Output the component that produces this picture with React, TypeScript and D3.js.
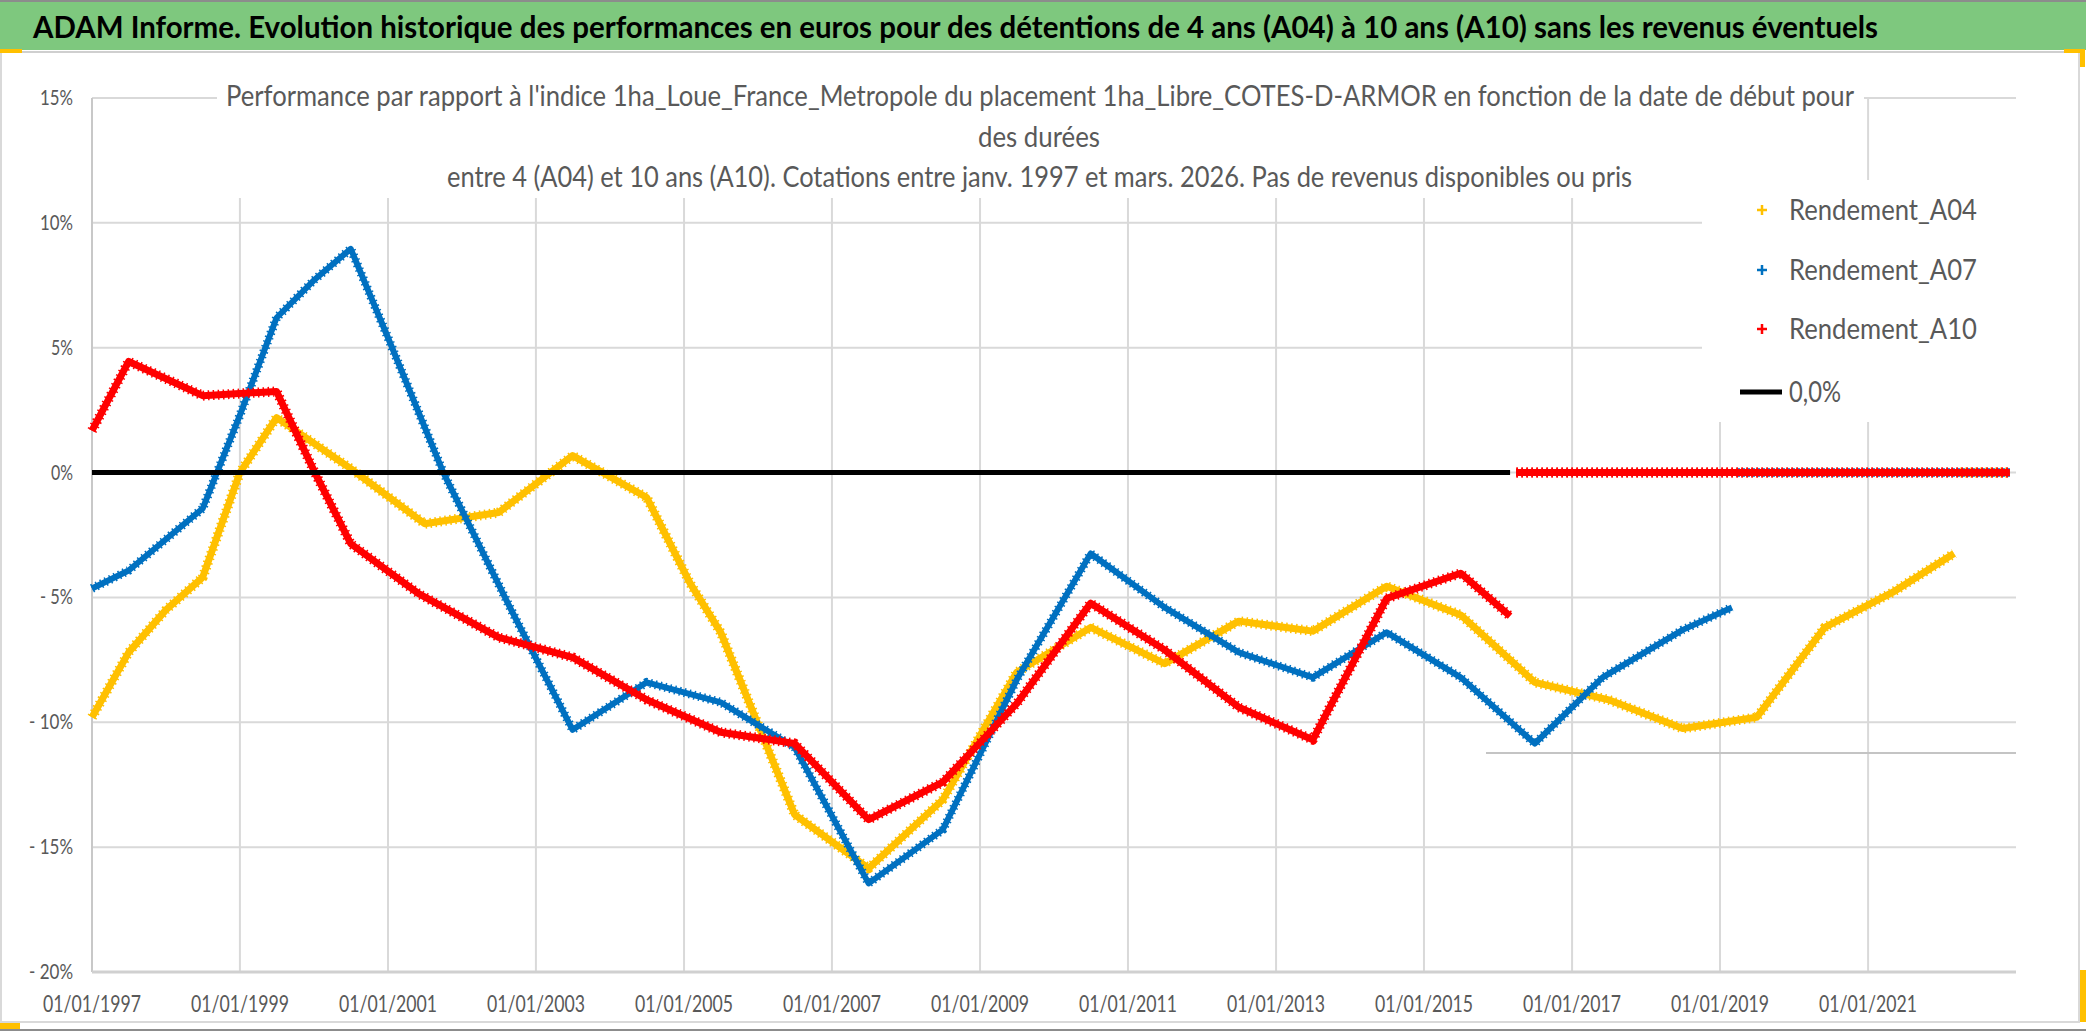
import * as d3 from "d3";

type Point = [string, number | null];

const titleText =
  "ADAM Informe. Evolution historique des performances en euros pour des détentions de 4 ans (A04) à 10 ans (A10) sans les revenus éventuels";

const subtitleLines = [
  "Performance par rapport à l'indice 1ha_Loue_France_Metropole  du placement 1ha_Libre_COTES-D-ARMOR en fonction de la date de début pour",
  "des durées",
  "entre 4 (A04) et 10 ans (A10). Cotations entre janv. 1997 et mars. 2026. Pas de revenus disponibles ou pris"
];

const yTicks = [-20, -15, -10, -5, 0, 5, 10, 15];
const xTickYears = [1997, 1999, 2001, 2003, 2005, 2007, 2009, 2011, 2013, 2015, 2017, 2019, 2021];

const seriesNames = ["Rendement_A04", "Rendement_A07", "Rendement_A10"];
const zeroLabel = "0,0%";

// performance in %, by start date (month)
const a04: Point[] = [
  ["1997-01", -9.8], ["1997-07", -7.2], ["1998-01", -5.5], ["1998-07", -4.2],
  ["1999-01", 0.0], ["1999-07", 2.2], ["2000-07", 0.16], ["2001-07", -2.05],
  ["2002-07", -1.6], ["2003-07", 0.68], ["2004-07", -1.0], ["2005-02", -4.45],
  ["2005-07", -6.4], ["2006-07", -13.7], ["2007-07", -15.85], ["2008-07", -13.1],
  ["2009-07", -8.0], ["2010-07", -6.2], ["2011-07", -7.65], ["2012-07", -5.95],
  ["2013-07", -6.35], ["2014-07", -4.55], ["2015-07", -5.7], ["2016-07", -8.4],
  ["2017-07", -9.1], ["2018-07", -10.25], ["2019-07", -9.8], ["2020-06", -6.2],
  ["2021-05", -4.8], ["2022-03", -3.24],
  ["2022-04", null], ["2022-04", 0], ["2022-12", 0]
];

const a07: Point[] = [
  ["1997-01", -4.64], ["1997-07", -3.92], ["1998-07", -1.44], ["1999-01", 2.3],
  ["1999-07", 6.2], ["2000-01", 7.7], ["2000-07", 8.96], ["2001-01", 5.4],
  ["2001-10", 0.0], ["2002-09", -5.5], ["2003-07", -10.3], ["2004-07", -8.4],
  ["2005-07", -9.2], ["2006-07", -11.0], ["2007-07", -16.45], ["2008-07", -14.3],
  ["2009-07", -8.3], ["2010-07", -3.24], ["2011-07", -5.4], ["2012-07", -7.2],
  ["2013-07", -8.2], ["2014-07", -6.4], ["2015-07", -8.2], ["2016-07", -10.85],
  ["2017-06", -8.2], ["2018-07", -6.3], ["2019-03", -5.4],
  ["2019-04", null], ["2019-04", 0], ["2022-12", 0]
];

const a10: Point[] = [
  ["1997-01", 1.68], ["1997-07", 4.45], ["1998-07", 3.08], ["1999-07", 3.25],
  ["2000-01", 0.08], ["2000-07", -2.85], ["2001-06", -4.85], ["2002-07", -6.6],
  ["2003-07", -7.4], ["2004-07", -9.1], ["2005-07", -10.4], ["2006-07", -10.85],
  ["2007-07", -13.9], ["2008-07", -12.4], ["2009-07", -9.25], ["2010-07", -5.23],
  ["2011-07", -7.1], ["2012-07", -9.4], ["2013-07", -10.7], ["2014-07", -5.04],
  ["2015-07", -4.03], ["2016-03", -5.75],
  ["2016-04", null], ["2016-04", 0], ["2022-12", 0]
];

const zeroLine: Point[] = [["1997-01", 0], ["2016-03", 0]];

const seriesData = [a04, a07, a10];
const seriesColors = ["#FFC000", "#0070C0", "#FF0000"];
const seriesWidths = [7, 6, 7];

const parseMonth = d3.timeParse("%Y-%m");
const formatTick = d3.timeFormat("%d/%m/%Y");

const W = 2086;
const H = 1031;
const plot = { left: 92, right: 2016, top: 98, bottom: 972 };
const textGray = "#595959";
const gridGray = "#D9D9D9";
const font = "Lato, 'Open Sans', sans-serif";

const yLabel = (v: number) => (v < 0 ? `- ${-v}%` : `${v}%`);

export default function App() {
  const x = d3
    .scaleTime()
    .domain([parseMonth("1997-01") as Date, parseMonth("2023-01") as Date])
    .range([plot.left, plot.right]);
  const y = d3.scaleLinear().domain([-20, 15]).range([plot.bottom, plot.top]);

  const line = d3
    .line<Point>()
    .defined((d) => d[1] !== null)
    .x((d) => x(parseMonth(d[0]) as Date))
    .y((d) => y(d[1] as number));

  const legendX = 1762;
  const legendRows = [210, 270, 329];
  const a10Tail = a10.slice(a10.findIndex((d) => d[1] === null) + 1);

  // dense "+" markers look: a solid core plus a dashed, wider halo
  const markerPath = (d: string, color: string, w: number, key: string) => (
    <g key={key}>
      <path d={d} fill="none" stroke={color} strokeWidth={w} strokeLinejoin="round" />
      <path
        d={d}
        fill="none"
        stroke={color}
        strokeWidth={w + 3}
        strokeDasharray="1.5 3.5"
        strokeLinejoin="round"
      />
    </g>
  );

  return (
    <svg
      width={W}
      height={H}
      style={{ position: "absolute", left: 0, top: 0, fontFamily: font }}
    >
      <rect x={0} y={0} width={W} height={H} fill="#ffffff" />
      {/* chart area frame */}
      <rect x={1} y={52} width={2078} height={970} fill="#ffffff" stroke="#d9d9d9" strokeWidth={2} />
      <line x1={0} x2={W} y1={1030} y2={1030} stroke="#8c8c8c" strokeWidth={2} />

      {/* green title bar */}
      <rect x={0} y={0} width={W} height={50} fill="#7ec87e" />
      <line x1={0} x2={W} y1={1} y2={1} stroke="#8c8c8c" strokeWidth={2} />
      <line x1={0} x2={2079} y1={52} y2={52} stroke="#cfcfcf" strokeWidth={2} />
      <text
        x={33}
        y={38}
        fontSize={31}
        fontWeight={700}
        fill="#000000"
        textLength={1845}
        lengthAdjust="spacingAndGlyphs"
      >
        {titleText}
      </text>

      {/* selection handles */}
      <rect x={0} y={49} width={22} height={4} fill="#FFC000" />
      <rect x={2064} y={49} width={20} height={4} fill="#FFC000" />
      <rect x={2080} y={49} width={5} height={18} fill="#FFC000" />
      <rect x={2080} y={970} width={6} height={52} fill="#FFC000" />
      <rect x={0} y={1023} width={20} height={6} fill="#FFC000" />

      {/* gridlines */}
      <g stroke={gridGray} strokeWidth={2}>
        {yTicks
          .filter((v) => v > -20)
          .map((v) => (
            <line key={`gy${v}`} x1={plot.left} x2={plot.right} y1={y(v)} y2={y(v)} />
          ))}
        {xTickYears.slice(1).map((yr) => {
          const xp = x(new Date(yr, 0, 1));
          return <line key={`gx${yr}`} x1={xp} x2={xp} y1={plot.top} y2={plot.bottom} />;
        })}
      </g>

      {/* title and legend boxes hide the gridlines */}
      <rect x={217} y={58} width={1647} height={140} fill="#ffffff" />
      <rect x={1702} y={180} width={318} height={242} fill="#ffffff" />

      {/* stray line */}
      <line x1={1486} x2={plot.right} y1={753} y2={753} stroke="#c4c4c4" strokeWidth={2} />

      {/* axes */}
      <line x1={plot.left} x2={plot.left} y1={plot.top} y2={plot.bottom} stroke="#c8c8c8" strokeWidth={2} />
      <line x1={plot.left} x2={plot.right} y1={plot.bottom} y2={plot.bottom} stroke="#d0d0d0" strokeWidth={3} />

      {/* series */}
      {seriesData.map((s, i) =>
        markerPath(line(s) ?? "", seriesColors[i], seriesWidths[i], seriesNames[i])
      )}
      <path d={line(zeroLine) ?? ""} fill="none" stroke="#000000" strokeWidth={5} />
      {/* red tail over the black line */}
      {markerPath(line(a10Tail) ?? "", seriesColors[2], seriesWidths[2], "a10tail")}

      {/* y labels */}
      {yTicks.map((v) => {
        const label = yLabel(v);
        return (
          <text
            key={`yl${v}`}
            x={73}
            y={y(v) + 7}
            fontSize={21}
            fill={textGray}
            textAnchor="end"
            textLength={label.replace("- ", "-").length * 11}
            lengthAdjust="spacingAndGlyphs"
          >
            {label}
          </text>
        );
      })}

      {/* x labels */}
      {xTickYears.map((yr) => (
        <text
          key={`xl${yr}`}
          x={x(new Date(yr, 0, 1))}
          y={1012}
          fontSize={23}
          fill={textGray}
          textAnchor="middle"
          textLength={98}
          lengthAdjust="spacingAndGlyphs"
        >
          {formatTick(new Date(yr, 0, 1))}
        </text>
      ))}

      {/* subtitle */}
      <g fontSize={29} fill={textGray} style={{ whiteSpace: "pre" }}>
        <text x={226} y={106} textLength={1628} lengthAdjust="spacingAndGlyphs">
          {subtitleLines[0]}
        </text>
        <text x={978} y={147} textLength={122} lengthAdjust="spacingAndGlyphs">
          {subtitleLines[1]}
        </text>
        <text x={447} y={187} textLength={1185} lengthAdjust="spacingAndGlyphs">
          {subtitleLines[2]}
        </text>
      </g>

      {/* legend */}
      <g fontSize={29} fill={textGray}>
        {seriesNames.map((name, i) => (
          <g key={`lg${name}`} transform={`translate(0,${legendRows[i]})`}>
            <path
              d={`M${legendX - 5},0H${legendX + 5}M${legendX},-5V5`}
              stroke={seriesColors[i]}
              strokeWidth={2.5}
            />
            <text x={1789} y={10} textLength={188} lengthAdjust="spacingAndGlyphs">
              {name}
            </text>
          </g>
        ))}
        <g transform="translate(0,392)">
          <line x1={1740} x2={1782} y1={0} y2={0} stroke="#000000" strokeWidth={5} />
          <text x={1789} y={10} textLength={52} lengthAdjust="spacingAndGlyphs">
            {zeroLabel}
          </text>
        </g>
      </g>
    </svg>
  );
}
